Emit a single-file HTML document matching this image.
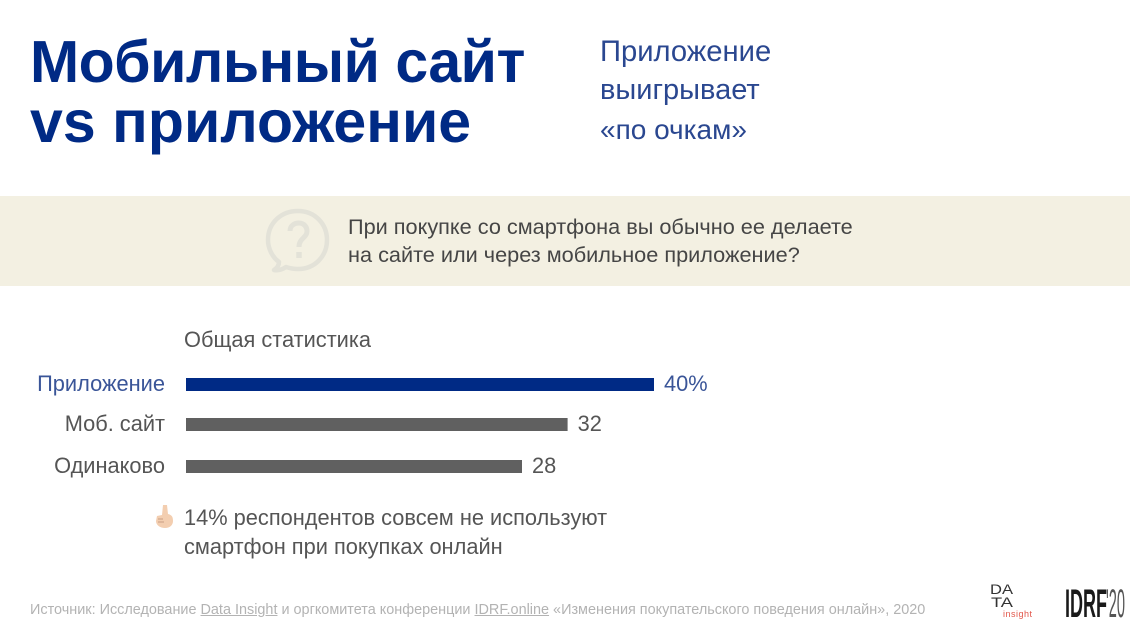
<!DOCTYPE html>
<html lang="ru">
<head>
<meta charset="utf-8">
<title>Мобильный сайт vs приложение</title>
<style>
html,body{margin:0;padding:0;background:#fff;}
#page{position:relative;width:1130px;height:634px;overflow:hidden;background:#fff;font-family:"Liberation Sans","Noto Sans CJK SC",sans-serif;}
.t{position:absolute;white-space:nowrap;}
svg{position:absolute;left:0;top:0;}
a,u{color:inherit;}
</style>
</head>
<body>
<div id="page">
  <div class="t" style="left:30px;top:27px;font-size:59px;letter-spacing:-0.5px;line-height:70px;font-weight:bold;color:#002a85;">Мобильный сайт</div>
  <div class="t" style="left:30px;top:87px;font-size:59px;letter-spacing:0.05px;line-height:70px;font-weight:bold;color:#002a85;">vs приложение</div>
  <div class="t" style="left:600px;top:33px;font-size:29.2px;line-height:39px;color:#2a4790;">Приложение</div>
  <div class="t" style="left:600px;top:71px;font-size:29px;line-height:39px;color:#2a4790;">выигрывает</div>
  <div class="t" style="left:600px;top:110px;font-size:28px;line-height:39px;color:#2a4790;">«по очкам»</div>

  <div style="position:absolute;left:0;top:196px;width:1130px;height:90px;background:#f3f0e2;"></div>
  <svg width="1130" height="634">
    <g fill="none" stroke="#e3e2d8" stroke-width="4.5" stroke-linejoin="round">
      <path d="M279 262 C272 257 268 248 268 240 C268 223 281 211 298 211 C315 211 327 224 327 240 C327 256 315 269 298 269 C293 269 289 268 286 267 C283 269 279 271 274 270 C277 268 279 265 279 262 Z"/>
      <path d="M290 231 C290 226 294 223 299 223 C304 223 307 227 307 231 C307 238 299 238 299 247" stroke-width="5"/>
      <path d="M299 252 L299 258" stroke-width="5.5"/>
    </g>
    <g id="bars"></g>
    <g>
      <path d="M163 505 L167 505 L168 514 C172 515 173 517 173 521 C173 525 170 528 165 528 C160 528 156 525 156 521 L157 516 L162 515 Z" fill="#f3ceb0"/>
      <path d="M158 519 L163 519 M158 522 L164 522" stroke="#c99f85" stroke-width="1"/>
    </g>
    <g>
      <text x="990" y="594" font-family="Liberation Sans" font-size="14" fill="#333" textLength="23" lengthAdjust="spacingAndGlyphs">DA</text>
      <text x="991" y="607" font-family="Liberation Sans" font-size="14" fill="#333" textLength="22" lengthAdjust="spacingAndGlyphs">TA</text>
      <text x="1003" y="617" font-family="Liberation Sans" font-size="9" fill="#e2564a" textLength="29">insight</text>
    </g>
    <g>
      <text x="1065" y="617" font-family="Liberation Sans" font-size="40" font-weight="bold" fill="#1a1a1a" textLength="42" lengthAdjust="spacingAndGlyphs">IDRF</text>
      <text x="1106" y="617" font-family="Liberation Sans" font-size="40" fill="#555" textLength="19" lengthAdjust="spacingAndGlyphs">'20</text>
    </g>
  </svg>
  <div class="t" style="left:348px;top:213px;font-size:21.7px;line-height:28px;color:#454545;">При покупке со смартфона вы обычно ее делаете<br>на сайте или через мобильное приложение?</div>

  <div class="t" style="left:184px;top:326px;font-size:21.8px;line-height:28px;color:#555;">Общая статистика</div>
  <div id="labels"></div>

  <div class="t" style="left:184px;top:503px;font-size:21.8px;line-height:29px;color:#555;">14% респондентов совсем не используют<br>смартфон при покупках онлайн</div>
  <div class="t" style="left:30px;top:601px;font-size:14.43px;line-height:18px;color:#b3b3b3;">Источник: Исследование <u>Data Insight</u> и оргкомитета конференции <u>IDRF.online</u> «Изменения покупательского поведения онлайн», 2020</div>
</div>
<script>
const categories = ['Приложение', 'Моб. сайт', 'Одинаково'];
const barValues = [39, 31.8, 28];
const valueLabels = ['40%', '32', '28'];

const svgNS = 'http://www.w3.org/2000/svg';
const xStart = 186, pxPerUnit = 12, barHeight = 13;
function xScale(v) { return v * pxPerUnit; }
function rowTop(i) { return [378, 418, 460][i]; }
const barsGroup = document.getElementById('bars');
const labelsBox = document.getElementById('labels');
categories.forEach(function (cat, i) {
  const color = i === 0 ? '#002a85' : '#606060';
  const textColor = i === 0 ? '#3a5598' : '#555';
  const w = xScale(barValues[i]);
  const rect = document.createElementNS(svgNS, 'rect');
  rect.setAttribute('x', xStart);
  rect.setAttribute('y', rowTop(i));
  rect.setAttribute('width', w);
  rect.setAttribute('height', barHeight);
  rect.setAttribute('fill', color);
  
  
  barsGroup.appendChild(rect);

  const cl = document.createElement('div');
  cl.className = 't';
  cl.textContent = cat;
  cl.style.cssText = 'right:' + (1130 - 165) + 'px;top:' + (rowTop(i) - 8) + 'px;font-size:21.8px;line-height:28px;color:' + textColor + ';';
  
  
  labelsBox.appendChild(cl);

  const vl = document.createElement('div');
  vl.className = 't';
  vl.textContent = valueLabels[i];
  vl.style.cssText = 'left:' + (xStart + w + 10) + 'px;top:' + (rowTop(i) - 8) + 'px;font-size:21.8px;line-height:28px;color:' + textColor + ';';
  
  
  labelsBox.appendChild(vl);
});
</script>
</body>
</html>
